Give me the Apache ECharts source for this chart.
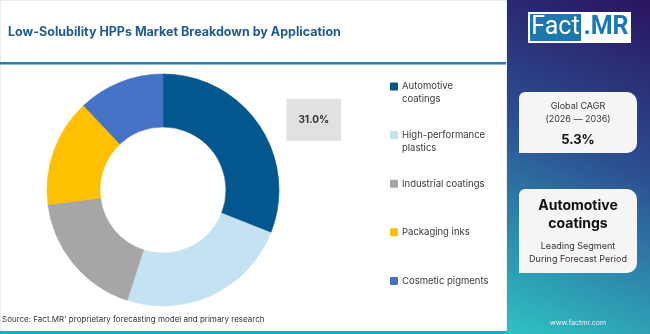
<!DOCTYPE html>
<html>
<head>
<meta charset="utf-8">
<script src="https://cdn.jsdelivr.net/npm/echarts@6/dist/echarts.min.js"></script>
<style>
  html, body { margin: 0; padding: 0; background: #fff; }
  #chart { width: 650px; height: 334px; }
</style>
</head>
<body>
<div id="chart"></div>
<script>
var categories = ['Automotive coatings', 'High-performance plastics', 'Industrial coatings', 'Packaging inks', 'Cosmetic pigments'];
var shares = [31.0, 24.0, 18.0, 15.0, 12.0];
var sliceColors = ['#03578f', '#c5e2f3', '#a6a6a6', '#ffc000', '#4472c4'];
// wrapped legend names; a blank first line keeps the marker beside the first line of text
var legendLabels = {
    'Automotive coatings': '\nAutomotive\ncoatings',
    'High-performance plastics': '\nHigh-performance\nplastics'
};

var font = 'Inter';
var chart = echarts.init(document.getElementById('chart'), null, {renderer: 'canvas'});

var pieData = categories.map(function (name, i) {
    // border in the slice's own colour hides the antialias seams
    var item = {name: name, value: shares[i], itemStyle: {color: sliceColors[i], borderColor: sliceColors[i], borderWidth: 0.6}};
    if (i === 0) {
        item.label = {show: true};
    }
    return item;
});

var option = {
    animation: false,
    textStyle: {fontFamily: font},
    title: {
        text: 'Low-Solubility HPPs Market Breakdown by Application',
        left: 8,
        top: 26,
        padding: 0,
        textStyle: {fontSize: 12.5, fontWeight: 'bold', color: '#1c5b93', fontFamily: font}
    },
    legend: {
        orient: 'vertical',
        left: 390,
        top: 67,
        padding: 0,
        itemGap: 9.6,
        itemWidth: 6,
        itemHeight: 6,
        icon: 'rect',
        data: categories,
        formatter: function (name) {
            return legendLabels[name] || ('\n' + name + '\n');
        },
        textStyle: {fontSize: 9.5, color: '#3a3a3a', lineHeight: 13, fontFamily: font}
    },
    graphic: [
        // left card
        {type: 'rect', shape: {x: 0, y: 0, width: 507, height: 334}, style: {fill: '#fff', stroke: '#dcdcdc', lineWidth: 1}, z: -10},
        {type: 'rect', shape: {x: 0, y: 62, width: 506, height: 2.5}, style: {fill: '#2b7bb7'}},
        {type: 'rect', shape: {x: 0, y: 331, width: 507, height: 3}, style: {fill: '#1ea6da'}},
        {type: 'text', x: 2, y: 320, style: {text: "Source: Fact.MR' proprietary forecasting model and primary research", font: '8px ' + font, fill: '#333', verticalAlign: 'middle'}},
        // right panel
        {
            type: 'rect', shape: {x: 507, y: 0, width: 143, height: 334}, z: -5,
            style: {
                fill: new echarts.graphic.LinearGradient(1, 0, 0, 1, [
                    {offset: 0, color: '#2a1460'},
                    {offset: 0.45, color: '#2c4f92'},
                    {offset: 1, color: '#2fc2c4'}
                ])
            }
        },
        // logo
        {type: 'rect', shape: {x: 528, y: 12, width: 103, height: 31}, style: {fill: '#fff'}},
        {type: 'rect', shape: {x: 530, y: 14, width: 51, height: 27}, style: {fill: '#1c78ad'}},
        {type: 'text', x: 555.5, y: 28, style: {text: 'Fact', font: '25px Roboto', fill: '#fff', align: 'center', verticalAlign: 'middle'}},
        {type: 'text', x: 606, y: 28, style: {text: '.MR', font: 'bold 25px Roboto', fill: '#1c78b4', align: 'center', verticalAlign: 'middle'}},
        // CAGR box
        {type: 'rect', shape: {x: 519, y: 92, width: 118, height: 61, r: [6, 10, 10, 0]}, style: {fill: '#f5f5f5'}},
        {type: 'text', x: 578, y: 106, style: {text: 'Global CAGR', font: '9px ' + font, fill: '#333', align: 'center', verticalAlign: 'middle'}},
        {type: 'text', x: 578, y: 119, style: {text: '(2026 \u2014 2036)', font: '9px ' + font, fill: '#333', align: 'center', verticalAlign: 'middle'}},
        {type: 'text', x: 578, y: 140, style: {text: '5.3%', font: 'bold 13px ' + font, fill: '#111', align: 'center', verticalAlign: 'middle'}},
        // leading segment box
        {type: 'rect', shape: {x: 519, y: 189, width: 118, height: 84, r: [6, 10, 10, 0]}, style: {fill: '#f5f5f5'}},
        {type: 'text', x: 578, y: 206, style: {text: 'Automotive', font: 'bold 14px ' + font, fill: '#111', align: 'center', verticalAlign: 'middle'}},
        {type: 'text', x: 578, y: 224, style: {text: 'coatings', font: 'bold 14px ' + font, fill: '#111', align: 'center', verticalAlign: 'middle'}},
        {type: 'text', x: 578, y: 246, style: {text: 'Leading Segment', font: '9px ' + font, fill: '#333', align: 'center', verticalAlign: 'middle'}},
        {type: 'text', x: 578, y: 259, style: {text: 'During Forecast Period', font: '9px ' + font, fill: '#333', align: 'center', verticalAlign: 'middle'}},
        {type: 'text', x: 578, y: 323, style: {text: 'www.factmr.com', font: '7px ' + font, fill: '#e8f4f8', align: 'center', verticalAlign: 'middle'}}
    ],
    series: [{
        type: 'pie',
        center: [163, 190],
        radius: [63, 116],
        startAngle: 90,
        clockwise: true,
        avoidLabelOverlap: false,
        label: {
            show: false,
            position: 'outside',
            formatter: function (p) { return p.value.toFixed(1) + '%'; },
            backgroundColor: '#e1e1e1',
            padding: [16, 12],
            fontSize: 10,
            fontWeight: 'bold',
            color: '#333',
            fontFamily: font
        },
        labelLine: {show: false, length: 9, length2: 15},
        emphasis: {disabled: true},
        data: pieData
    }]
};

chart.setOption(option);
</script>
</body>
</html>
